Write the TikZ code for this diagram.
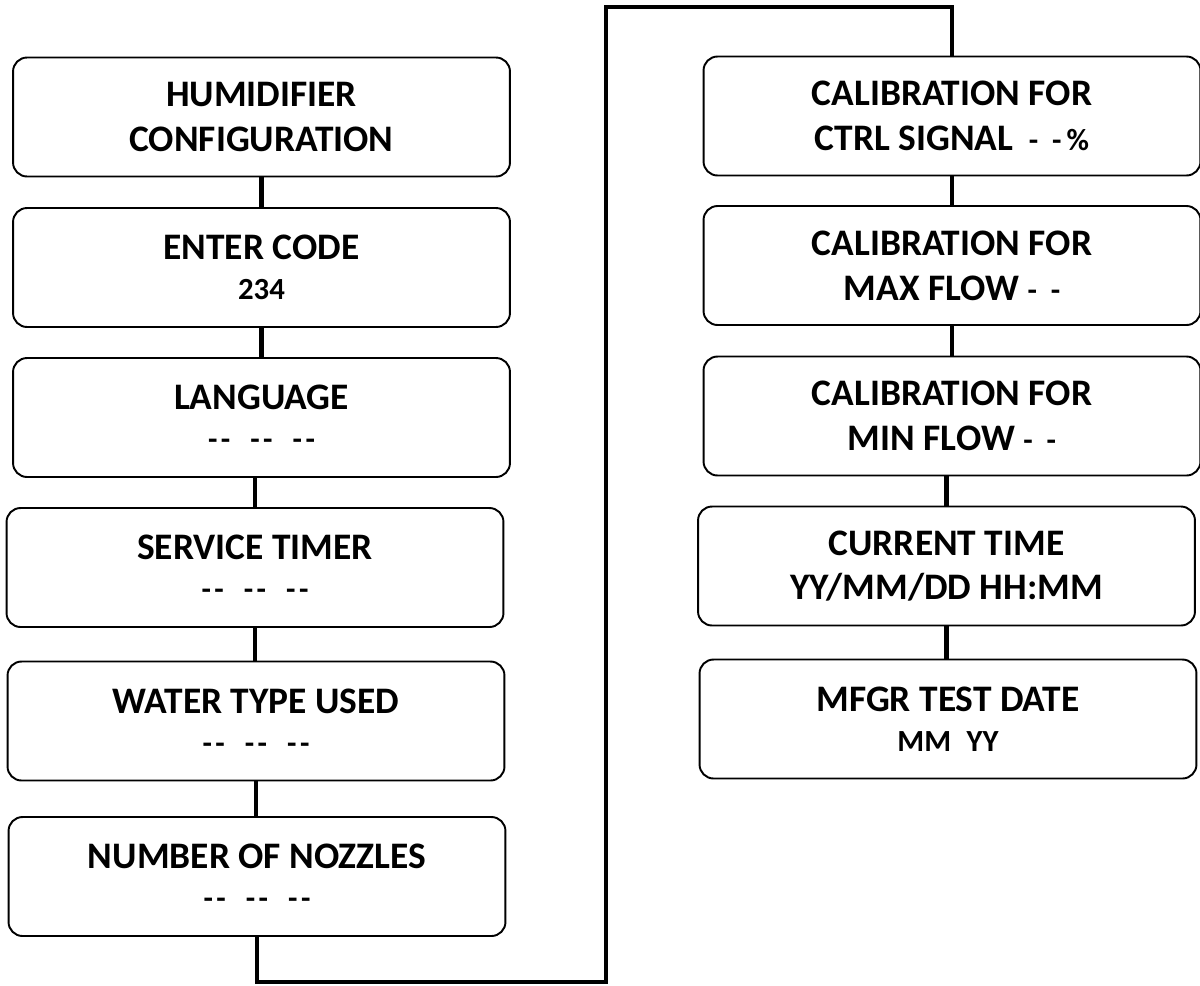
\documentclass[tikz,border=0pt]{standalone}
\usepackage{fontspec}
\setmainfont{Carlito}
\usetikzlibrary{positioning}

\newcommand{\bigtxt}{\fontsize{21.3}{22.7}\selectfont}
\newcommand{\smalltxt}{\fontsize{17.5}{22.7}\selectfont}
\newcommand{\dashpair}{-\kern2pt-}
\newcommand{\blanks}{\dashpair\hspace{0.65em}\dashpair\hspace{0.65em}\dashpair}

\tikzset{
  menubox/.style={draw, rectangle, rounded corners=0.28cm, line width=1.1pt,
    minimum width=9.94cm, minimum height=2.38cm, inner sep=0pt,
    align=center, font=\bfseries\bigtxt},
  link/.style={line width=2.8pt},
}

\begin{document}
\begin{tikzpicture}[x=0.02cm, y=-0.02cm]
\useasboundingbox (0,0) rectangle (1200,985);

% left column
\node[menubox] (hum) at (261.5,117) {HUMIDIFIER\\[2.8pt] CONFIGURATION};
\node[menubox] (code) at (261.5,267.5) {ENTER CODE\\ {\smalltxt 234}};
\node[menubox] (lang) at (261.5,417.5) {LANGUAGE\\ {\smalltxt\blanks}};
\node[menubox] (serv) at (255,567.5) {SERVICE TIMER\\ {\smalltxt\blanks}};
\node[menubox] (water) at (256,721) {WATER TYPE USED\\ {\smalltxt\blanks}};
\node[menubox] (nozz) at (257,876.5) {NUMBER OF NOZZLES\\ {\smalltxt\blanks}};

% right column
\node[menubox] (ctrl) at (952,116) {CALIBRATION FOR\\[2.8pt] CTRL SIGNAL {\smalltxt\ -\ \ -\,\%}};
\node[menubox] (maxf) at (952,265.5) {CALIBRATION FOR\\[2.8pt] MAX FLOW {\smalltxt -\ \ -}};
\node[menubox] (minf) at (952,416) {CALIBRATION FOR\\[2.8pt] MIN FLOW {\smalltxt -\ \ -}};
\node[menubox] (time) at (946.5,566) {CURRENT TIME\\[2.8pt] YY/MM/DD HH:MM};
\node[menubox] (mfgr) at (948,719) {MFGR TEST DATE\\ {\smalltxt MM\enspace YY}};

% connectors
\draw[link] (hum.south) -- (hum.south |- code.north);
\draw[link] (code.south) -- (code.south |- lang.north);
\draw[link] (serv.north |- lang.south) -- (serv.north);
\draw[link] (serv.south) -- (serv.south |- water.north);
\draw[link] (water.south) -- (water.south |- nozz.north);
\draw[link] (ctrl.south) -- (ctrl.south |- maxf.north);
\draw[link] (maxf.south) -- (maxf.south |- minf.north);
\draw[link] (time.north |- minf.south) -- (time.north);
\draw[link] (time.south) -- (time.south |- mfgr.north);

% loop over to the right column
\coordinate (botturn) at (606,982);
\coordinate (topturn) at (606,7);
\draw[link] (nozz.south) |- (botturn) -- (topturn) -| (ctrl.north);
\end{tikzpicture}
\end{document}
